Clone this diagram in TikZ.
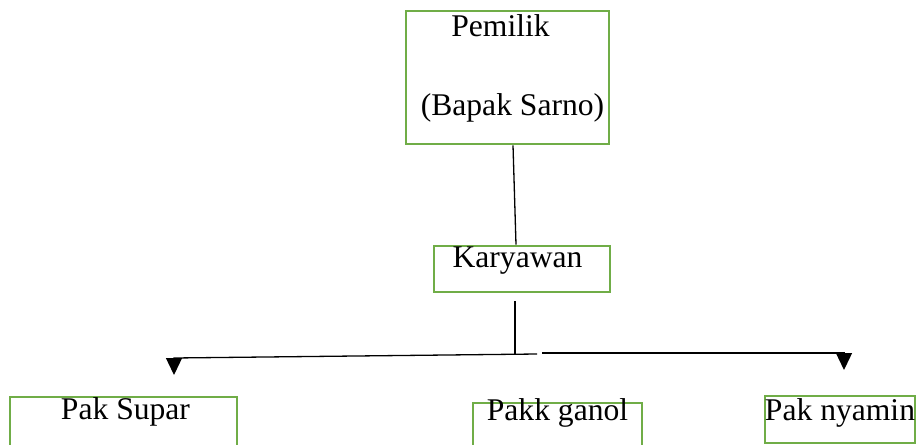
\documentclass[tikz,border=0pt]{standalone}
\usepackage{fontspec}
\setmainfont{Liberation Serif}
\usepackage{xcolor}
\usetikzlibrary{positioning, calc, arrows.meta}

\begin{document}
\begin{tikzpicture}[
  x=1pt, y=-1pt,
  font=\fontsize{31.6}{38}\selectfont,
  >={Triangle[length=17pt,width=16pt]},
  orgbox/.style={draw=cGreen, line width=2.6pt, inner sep=0pt},
  txt/.style={anchor=base, inner sep=0pt},
  link/.style={black, line width=1.3pt},
]
\definecolor{cGreen}{HTML}{70AD47}   % box border

\useasboundingbox (0,0) rectangle (917,444);

% =====================================================================
% Boxes (centre, width x height in px of the page)
% =====================================================================
\node[orgbox, minimum width=203pt, minimum height=133pt] (pemilik)  at (507.5,77.5) {};
\node[orgbox, minimum width=176pt, minimum height=46pt]  (karyawan) at (522,269)    {};
\node[orgbox, minimum width=227pt, minimum height=63pt]  (supar)    at (123.5,428.5) {};
\node[orgbox, minimum width=169pt, minimum height=57pt]  (ganol)    at (557.5,431.5) {};
\node[orgbox, minimum width=150pt, minimum height=47pt]  (nyamin)   at (840,419.5)  {};

% texts, set on their baselines
\node[txt] (tPemilik)  at (500.5,37)  {Pemilik};
\node[txt] (tSarno)    at (512.5,115) {(Bapak Sarno)};
\node[txt] (tKaryawan) at (517.5,267) {Karyawan};
\node[txt] (tSupar)    at (125.5,419) {Pak Supar};
\node[txt] (tGanol)    at (557.5,420) {Pakk ganol};
\node[txt] (tNyamin)   at (840,420)   {Pak nyamin};

% =====================================================================
% Connectors
% =====================================================================
\coordinate (splitC) at (515,354);
\coordinate (splitL) at (537,354);
\coordinate (splitR) at (542,353);
\coordinate (turnL)  at (174,358);
\coordinate (turnR)  at (844,353);

\draw[link] ([xshift=5.5pt]pemilik.south) -- ([xshift=-6pt]karyawan.north);
\draw[link] ([xshift=-7pt,yshift=-8pt]karyawan.south) -- (splitC);
\draw[link, ->] (splitL) -- (turnL) -- ++(0,17);
\draw[link, ->] (splitR) -- (turnR) -- ++(0,17);

\end{tikzpicture}
\end{document}
